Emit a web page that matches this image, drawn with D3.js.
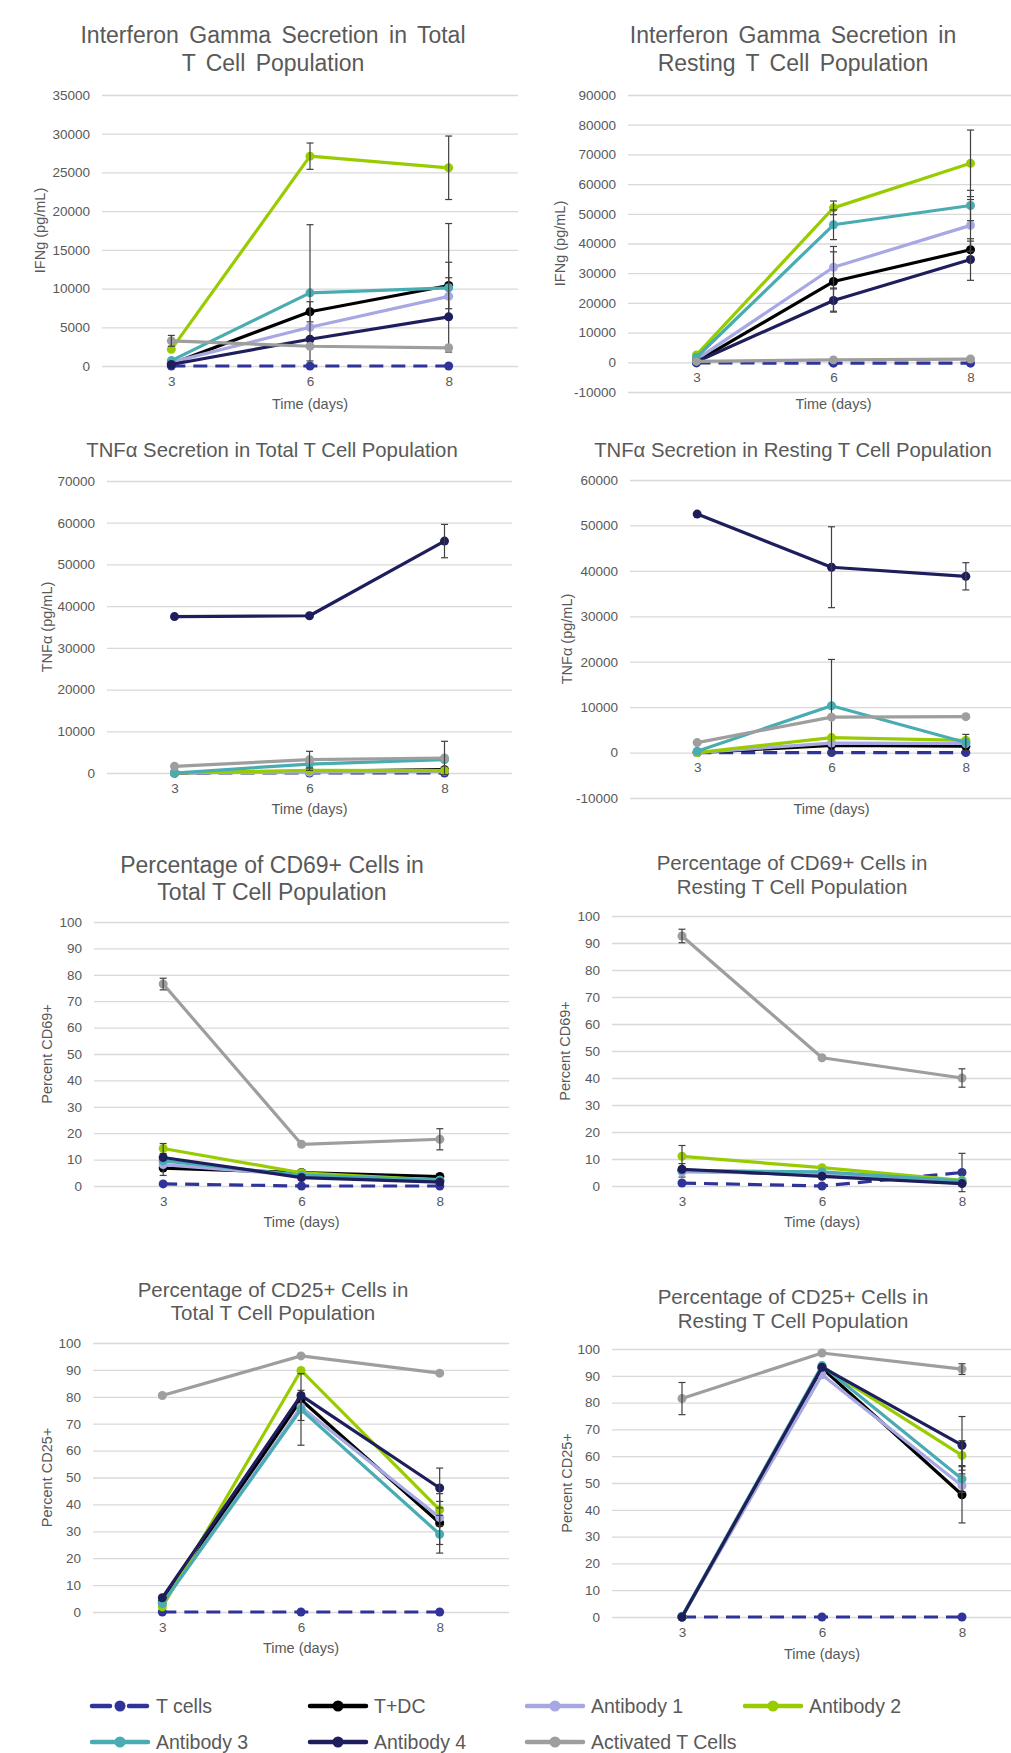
<!DOCTYPE html>
<html>
<head>
<meta charset="utf-8">
<script src="https://cdn.jsdelivr.net/npm/d3@7"></script>
<style>
  body { margin: 0; background: #fff; }
  svg { display: block; background: #fff; }
  svg text { font-family: 'Liberation Sans', Arial, sans-serif; fill: #595959; }
  .grid line { stroke: #d9d9d9; stroke-width: 1.3; }
  .grid text, .xaxis text { font-size: 13.5px; }
  .axis-title { font-size: 14.5px; }
  .err { stroke: #404040; stroke-width: 1.2; }
  .legend text { font-size: 19.5px; }
</style>
</head>
<body>
<svg id="chart"></svg>
<script>
const WIDTH = 1011;
const HEIGHT = 1753;

// categories and series
const DAYS = ['3', '6', '8'];
const SERIES = ['T cells', 'T+DC', 'Antibody 1', 'Antibody 2', 'Antibody 3', 'Antibody 4', 'Activated T Cells'];

// values, one row per series in SERIES order, one column per day
const ifngTotal = [
  [0, 0, 0], [300, 7000, 10400], [500, 5000, 9000], [2150, 27100, 25600],
  [700, 9450, 10100], [200, 3450, 6350], [3250, 2550, 2350]
];
const ifngTotalErr = [
  [0, 0, 0], [400, 1300, 3000], [0, 0, 2400], [0, 1700, 4100],
  [0, 8800, 8300], [0, 0, 0], [700, 0, 0]
];
const ifngResting = [
  [-200, -300, -300], [200, 27200, 37900], [1000, 32000, 46100], [2500, 52000, 67000],
  [1700, 46300, 52800], [200, 20800, 34600], [300, 800, 1100]
];
const ifngRestingErr = [
  [0, 0, 0], [0, 10000, 2900], [0, 7000, 8700], [0, 2300, 11200],
  [0, 5000, 5100], [0, 3900, 7000], [0, 0, 0]
];
const tnfTotal = [
  [0, 0, 0], [0, 400, 800], [0, 200, 400], [0, 650, 550],
  [0, 2150, 3200], [37500, 37700, 55600], [1600, 3200, 3600]
];
const tnfTotalErr = [
  [0, 0, 0], [0, 0, 0], [0, 0, 0], [0, 0, 0],
  [0, 1500, 0], [0, 0, 4000], [0, 2000, 4000]
];
const tnfResting = [
  [0, 0, 0], [0, 1600, 1400], [0, 2100, 2000], [0, 3300, 2700],
  [300, 10300, 2200], [52500, 40800, 38800], [2200, 7800, 7900]
];
const tnfRestingErr = [
  [0, 0, 0], [0, 0, 0], [0, 0, 0], [0, 0, 0],
  [0, 10200, 1800], [0, 8900, 3000], [0, 0, 0]
];
const cd69Total = [
  [0.8, 0, 0], [6.8, 5.1, 3.6], [8.1, 4, 1.9], [14.2, 5, 2.2],
  [9.5, 4.1, 2.2], [10.8, 3.2, 1.5], [76.5, 15.8, 17.7]
];
const cd69TotalErr = [
  [0, 0, 0], [2.8, 0, 0], [0, 0, 0], [1.9, 0, 0],
  [0, 0, 0], [0, 0, 0], [2.2, 0, 4]
];
const cd69Resting = [
  [1.1, 0, 5], [5.8, 4, 1.1], [5.2, 4.6, 1.5], [11, 6.8, 2.1],
  [5.8, 5.2, 1.9], [6.2, 3.6, 0.9], [92.6, 47.5, 40]
];
const cd69RestingErr = [
  [0, 0, 7.1], [2.5, 0, 0], [0, 0, 0], [4, 0, 0],
  [0, 0, 0], [0, 0, 0], [2.5, 0, 3.4]
];
const cd25Total = [
  [0, 0, 0], [3.7, 78.9, 33.1], [3.1, 76.2, 35.1], [1.9, 89.8, 38],
  [3.1, 75.3, 28.9], [5.3, 80.5, 46.1], [80.5, 95.2, 88.8]
];
const cd25TotalErr = [
  [0, 0, 0], [0, 3.5, 8], [0, 5, 0], [0, 0, 6],
  [0, 13.3, 7], [0, 0, 7.4], [0, 0, 0]
];
const cd25Resting = [
  [0, 0, 0], [0, 92.9, 45.6], [0, 90.4, 49], [0, 93.5, 60.3],
  [0.3, 93.8, 51.5], [0, 93.2, 64.1], [81.5, 98.5, 92.5]
];
const cd25RestingErr = [
  [0, 0, 0], [0, 0, 10.5], [0, 0, 0], [0, 0, 5.5],
  [0, 0, 5], [0, 0, 10.7], [6, 0, 2]
];

// styles
const COLORS = ['#30349a', '#000000', '#a7a7e4', '#99cc00', '#4aacb3', '#1e1e5c', '#9e9e9e'];
const DASH = '14,8';

// layout of each small chart
const PANELS = [
  { title: ['Interferon Gamma Secretion in Total', 'T Cell Population'], titleSize: 23, wordSpacing: 4,
    titleX: 273, titleY: [35, 63], yLabel: 'IFNg (pg/mL)', yLabelX: 40,
    domain: [0, 35000], step: 5000, left: 102, right: 518, top: 95, bottom: 366, xTitleY: 404,
    means: ifngTotal, errs: ifngTotalErr },
  { title: ['Interferon Gamma Secretion in', 'Resting T Cell Population'], titleSize: 23, wordSpacing: 4,
    titleX: 793, titleY: [35, 63], yLabel: 'IFNg (pg/mL)', yLabelX: 560,
    domain: [-10000, 90000], step: 10000, left: 628, right: 1039, top: 95, bottom: 392, xTitleY: 404,
    means: ifngResting, errs: ifngRestingErr },
  { title: ['TNFα Secretion in Total T Cell Population'], titleSize: 20.3, wordSpacing: 0,
    titleX: 272, titleY: [450], yLabel: 'TNFα (pg/mL)', yLabelX: 47,
    domain: [0, 70000], step: 10000, left: 107, right: 512, top: 481, bottom: 773, xTitleY: 809,
    means: tnfTotal, errs: tnfTotalErr },
  { title: ['TNFα Secretion in Resting T Cell Population'], titleSize: 20.3, wordSpacing: 0,
    titleX: 793, titleY: [450], yLabel: 'TNFα (pg/mL)', yLabelX: 567,
    domain: [-10000, 60000], step: 10000, left: 630, right: 1033, top: 480, bottom: 798, xTitleY: 809,
    means: tnfResting, errs: tnfRestingErr },
  { title: ['Percentage of CD69+ Cells in', 'Total T Cell Population'], titleSize: 23, wordSpacing: 0,
    titleX: 272, titleY: [865, 892], yLabel: 'Percent CD69+', yLabelX: 47,
    domain: [0, 100], step: 10, left: 94, right: 509, top: 922, bottom: 1186, xTitleY: 1222,
    means: cd69Total, errs: cd69TotalErr },
  { title: ['Percentage of CD69+ Cells in', 'Resting T Cell Population'], titleSize: 20.5, wordSpacing: 0,
    titleX: 792, titleY: [863, 887], yLabel: 'Percent CD69+', yLabelX: 565,
    domain: [0, 100], step: 10, left: 612, right: 1032, top: 916, bottom: 1186, xTitleY: 1222,
    means: cd69Resting, errs: cd69RestingErr },
  { title: ['Percentage of CD25+ Cells in', 'Total T Cell Population'], titleSize: 20.5, wordSpacing: 0,
    titleX: 273, titleY: [1290, 1313], yLabel: 'Percent CD25+', yLabelX: 47,
    domain: [0, 100], step: 10, left: 93, right: 509, top: 1343, bottom: 1612, xTitleY: 1648,
    means: cd25Total, errs: cd25TotalErr },
  { title: ['Percentage of CD25+ Cells in', 'Resting T Cell Population'], titleSize: 20.5, wordSpacing: 0,
    titleX: 793, titleY: [1297, 1321], yLabel: 'Percent CD25+', yLabelX: 567,
    domain: [0, 100], step: 10, left: 612, right: 1032, top: 1349, bottom: 1617, xTitleY: 1654,
    means: cd25Resting, errs: cd25RestingErr }
];

const LEGEND_COLS = [92, 310, 527, 745];
const LEGEND_ROWS = [1706, 1742];

const svg = d3.select('#chart')
  .attr('width', WIDTH)
  .attr('height', HEIGHT);

PANELS.forEach(p => drawPanel(p));
drawLegend();

/**
 * Draw one of the eight line charts
 */
function drawPanel (p) {
  const g = svg.append('g');

  const x = d3.scalePoint()
    .domain(DAYS)
    .range([p.left, p.right])
    .padding(0.5);

  const y = d3.scaleLinear()
    .domain(p.domain)
    .range([p.bottom, p.top]);

  const ticks = d3.range(p.domain[0], p.domain[1] + p.step / 2, p.step);

  // gridlines and value labels
  g.append('g')
    .attr('class', 'grid')
    .attr('transform', `translate(${p.left},0)`)
    .call(d3.axisLeft(y).tickValues(ticks).tickSize(-(p.right - p.left)).tickPadding(12).tickFormat(d => String(d)))
    .call(a => a.select('.domain').remove());

  // category labels sit under the zero line
  g.append('g')
    .attr('class', 'xaxis')
    .attr('transform', `translate(0,${y(0)})`)
    .call(d3.axisBottom(x).tickSize(0).tickPadding(10))
    .call(a => a.select('.domain').remove());

  // title
  g.append('text')
    .attr('text-anchor', 'middle')
    .attr('font-size', p.titleSize)
    .attr('word-spacing', p.wordSpacing)
    .selectAll('tspan')
    .data(p.title)
    .join('tspan')
    .attr('x', p.titleX)
    .attr('y', (t, k) => p.titleY[k])
    .attr('dy', '0.35em')
    .text(t => t);

  // axis titles
  const midY = (p.top + p.bottom) / 2;
  g.append('text')
    .attr('class', 'axis-title')
    .attr('text-anchor', 'middle')
    .attr('transform', `translate(${p.yLabelX},${midY}) rotate(-90)`)
    .attr('dy', '0.35em')
    .text(p.yLabel);

  g.append('text')
    .attr('class', 'axis-title')
    .attr('text-anchor', 'middle')
    .attr('x', (p.left + p.right) / 2)
    .attr('y', p.xTitleY)
    .attr('dy', '0.35em')
    .text('Time (days)');

  const line = d3.line()
    .x(q => x(q.day))
    .y(q => y(q.v));

  SERIES.forEach((name, i) => {
    const pts = DAYS.map((day, j) => ({ day, v: p.means[i][j], e: p.errs[i][j] }));
    const s = g.append('g').attr('class', 'series');

    s.append('path')
      .datum(pts)
      .attr('d', line)
      .attr('fill', 'none')
      .attr('stroke', COLORS[i])
      .attr('stroke-width', 3.2)
      .attr('stroke-linejoin', 'round')
      .attr('stroke-dasharray', i === 0 ? DASH : null);

    s.selectAll('circle')
      .data(pts)
      .join('circle')
      .attr('cx', q => x(q.day))
      .attr('cy', q => y(q.v))
      .attr('r', 4.5)
      .attr('fill', COLORS[i]);

    const bars = s.selectAll('g.err')
      .data(pts.filter(q => q.e > 0))
      .join('g')
      .attr('class', 'err');
    bars.append('line')
      .attr('x1', q => x(q.day)).attr('x2', q => x(q.day))
      .attr('y1', q => y(q.v - q.e)).attr('y2', q => y(q.v + q.e));
    bars.append('line')
      .attr('x1', q => x(q.day) - 3.5).attr('x2', q => x(q.day) + 3.5)
      .attr('y1', q => y(q.v + q.e)).attr('y2', q => y(q.v + q.e));
    bars.append('line')
      .attr('x1', q => x(q.day) - 3.5).attr('x2', q => x(q.day) + 3.5)
      .attr('y1', q => y(q.v - q.e)).attr('y2', q => y(q.v - q.e));
  });
}

/**
 * Legend at the bottom, four items per row
 */
function drawLegend () {
  const items = svg.append('g')
    .attr('class', 'legend')
    .selectAll('g')
    .data(SERIES)
    .join('g')
    .attr('transform', (d, i) => `translate(${LEGEND_COLS[i % 4]},${LEGEND_ROWS[Math.floor(i / 4)]})`);

  items.append('line')
    .attr('x1', 0).attr('x2', 56)
    .attr('stroke', (d, i) => COLORS[i])
    .attr('stroke-width', 4.5)
    .attr('stroke-linecap', 'round')
    .attr('stroke-dasharray', (d, i) => i === 0 ? '18,19' : null);

  items.append('circle')
    .attr('cx', 28)
    .attr('r', 5.5)
    .attr('fill', (d, i) => COLORS[i]);

  items.append('text')
    .attr('x', 64)
    .attr('dy', '0.35em')
    .text(d => d);
}
</script>
</body>
</html>
